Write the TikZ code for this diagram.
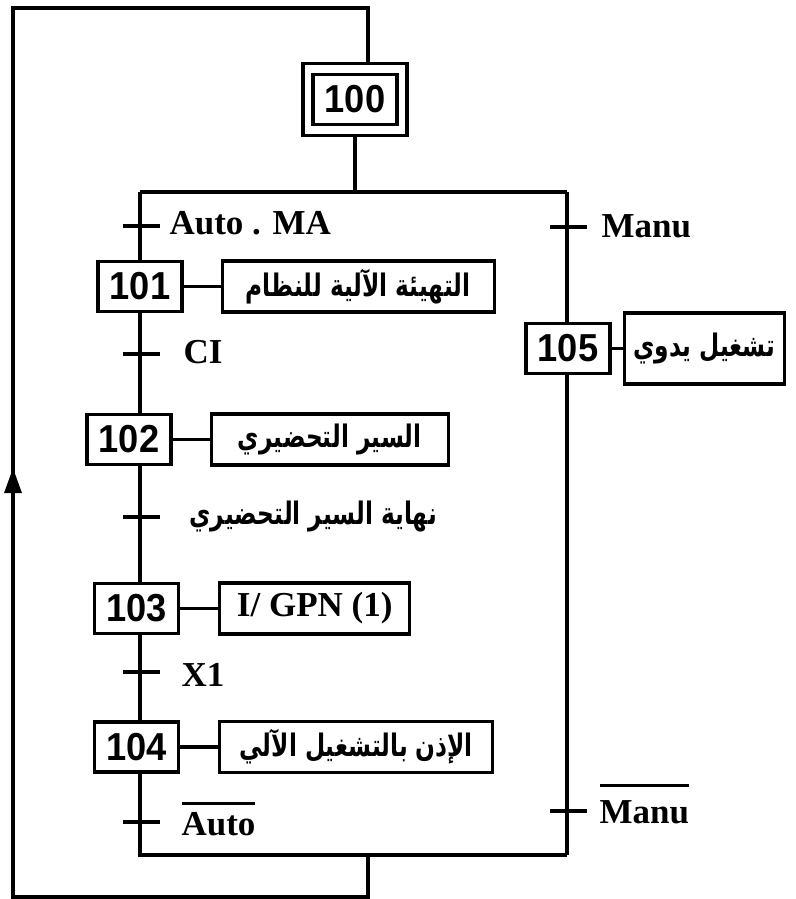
\documentclass[tikz,border=0pt]{standalone}
\usepackage{fontspec}
\setmainfont{Liberation Serif}
\newfontfamily\numfont[FakeStretch=0.93]{Liberation Sans}
\newfontfamily\arabicfont[Script=Arabic,FakeStretch=0.75]{DejaVu Sans}
\TeXXeTstate=1
\usetikzlibrary{positioning,arrows.meta}

\newcommand{\artxt}[1]{{\arabicfont\bfseries\fontsize{31}{31}\selectfont\beginR #1\endR}}
\newcommand{\barre}[2]{\vbox{\hrule height 2.6pt\kern#1\hbox{#2}}}

\begin{document}
\begin{tikzpicture}[x=1pt, y=-1pt, line width=3.2pt,
    stepbox/.style={draw, minimum width=84pt, minimum height=50pt, inner sep=0pt,
      font=\numfont\bfseries\fontsize{39}{39}\selectfont},
    actbox/.style={draw, minimum height=51pt, inner sep=0pt,
      font=\bfseries\fontsize{35}{35}\selectfont},
    cond/.style={anchor=base west, inner sep=0pt,
      font=\bfseries\fontsize{35}{35}\selectfont}]
  \useasboundingbox (0,0) rectangle (795,899);

  % Steps
  \node[stepbox] (s100) at (355,99.5) {100};
  \node[draw, minimum width=104pt, minimum height=72pt] (s100o) at (s100) {};
  \node[stepbox] (s101) at (140,286.5) {101};
  \node[stepbox] (s102) at (129,439.5) {102};
  \node[stepbox] (s103) at (136.5,608.5) {103};
  \node[stepbox] (s104) at (136.5,747) {104};
  \node[stepbox] (s105) at (568,348.5) {105};

  % Actions
  \node[actbox, minimum width=272pt, right=37pt of s101] (a101) {\artxt{التهيئة الآلية للنظام}};
  \node[actbox, minimum width=237pt, right=37pt of s102] (a102) {\artxt{السير التحضيري}};
  \node[actbox, minimum width=190pt, right=38pt of s103] (a103) {I/ GPN (1)};
  \node[actbox, minimum width=273pt, right=38pt of s104] (a104) {\artxt{الإذن بالتشغيل الآلي}};
  \node[actbox, minimum width=160pt, minimum height=71pt, right=11pt of s105] (a105) {\artxt{تشغيل يدوي}};

  % Transitions
  \coordinate (t1) at (140,226);
  \coordinate (t2) at (140,354);
  \coordinate (t3) at (140,517);
  \coordinate (t4) at (140,672);
  \coordinate (t5) at (140,822);
  \coordinate (t6) at (567,227);
  \coordinate (t7) at (567,811);
  \node[cond] (c1) at (168,234) {Auto . MA};
  \node[cond] (c2) at (182,363) {CI};
  \node[cond] (c3) at (188,524) {\artxt{نهاية السير التحضيري}};
  \node[cond] (c4) at (180,686) {X1};
  \node[cond] (c5) at (180,835) {\barre{7pt}{Auto}};
  \node[cond] (c6) at (600,237) {Manu};
  \node[cond] (c7) at (598,823) {\barre{13pt}{Manu}};

  % Divergence / convergence
  \coordinate (dvL) at (140,192);
  \coordinate (dvR) at (567,192);
  \coordinate (cvL) at (140,855);
  \coordinate (cvR) at (567,855);

  % Loop back
  \coordinate (r1) at (368,855);
  \coordinate (r2) at (368,897);
  \coordinate (r3) at (13,897);
  \coordinate (r4) at (13,8);
  \coordinate (r5) at (368,8);
  \coordinate (ar) at (13,468);

  % Links
  \draw (s100o.south) -- (s100o.south |- dvL);
  \draw (dvL) -- (dvR);
  \draw (dvL) -- (s101.north);
  \draw (s101.south) -- (s101.south |- s102.north);
  \draw (s102.south -| dvL) -- (s103.north -| dvL);
  \draw (s103.south -| dvL) -- (s104.north -| dvL);
  \draw (s104.south -| dvL) -- (cvL) -- (cvR);
  \draw (dvR) -- (s105.north -| dvR);
  \draw (s105.south -| dvR) -- (cvR);
  \draw (s101) -- (a101);
  \draw (s102) -- (a102);
  \draw (s103) -- (a103);
  \draw (s104) -- (a104);
  \draw (s105) -- (a105);

  % Ticks
  \draw ([xshift=-17pt]t1) -- ([xshift=20pt]t1);
  \draw ([xshift=-17pt]t2) -- ([xshift=20pt]t2);
  \draw ([xshift=-17pt]t3) -- ([xshift=20pt]t3);
  \draw ([xshift=-17pt]t4) -- ([xshift=20pt]t4);
  \draw ([xshift=-17pt]t5) -- ([xshift=20pt]t5);
  \draw ([xshift=-17pt]t6) -- ([xshift=20pt]t6);
  \draw ([xshift=-17pt]t7) -- ([xshift=20pt]t7);

  % Return
  \draw (r1) -- (r2) -- (r3) -- (r4) -- (r5) -- (r5 |- s100o.north);
  \draw[-{Triangle[length=25pt,width=17pt]}] (r3) -- (ar);
\end{tikzpicture}
\end{document}
